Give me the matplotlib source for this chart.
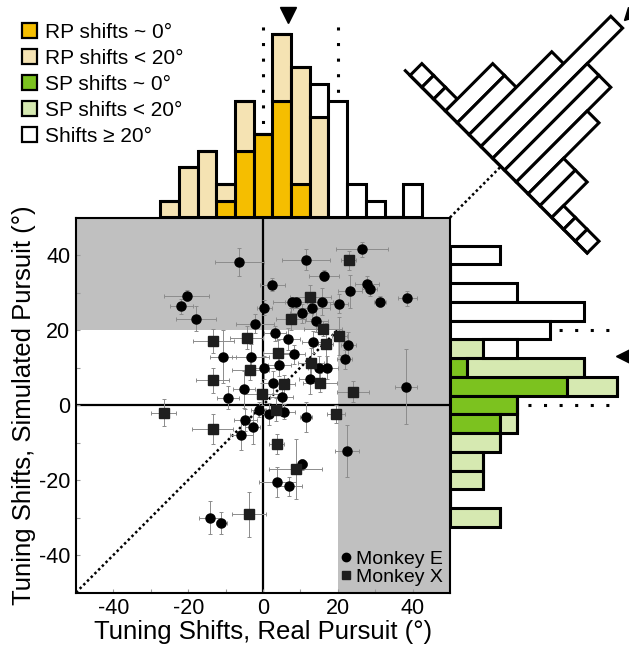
import numpy as np
import matplotlib.pyplot as plt
from matplotlib.patches import Patch
from matplotlib.lines import Line2D
from matplotlib.markers import MarkerStyle
from matplotlib.transforms import Affine2D

plt.rcParams['font.family'] = ['Liberation Sans', 'DejaVu Sans']
plt.rcParams['axes.unicode_minus'] = False

# Monkey E: tuning shifts (deg) in real (RP) and simulated (SP) pursuit, with errors
e_rp = [-6.3, 11.5, 26.5, 2.5, 16.2, -20.4, -21.8, -17.9, 27.8, 28.6, 23.3, 31.3, 38.6,
        0.3, 7.7, 8.8, 13.0, 15.7, 20.3, 10.3, 14.3, -2.1, 3.2, 6.8, 13.3, 22.8, 21.9,
        -10.8, -3.3, 8.3, 0.4, 4.4, 14.9, 17.0, 2.8, 12.7, -5.1, -9.4, 5.0, 38.2,
        -1.2, 1.7, 5.5, 11.5, -4.7, -5.8, -2.8, 22.5, 10.3, 3.8, 7.0, -14.2, -11.1]
e_sp = [38.1, 38.8, 41.6, 32.1, 34.5, 29.2, 26.3, 23.0, 32.4, 31.0, 30.3, 27.6, 28.5,
        26.0, 27.4, 27.4, 26.0, 27.6, 27.0, 24.5, 22.5, 21.7, 19.2, 17.6, 16.8, 16.0, 12.2,
        12.9, 12.9, 13.5, 10.0, 10.7, 10.0, 10.0, 6.0, 7.0, 4.2, 2.0, 2.2, 4.9,
        -1.2, -2.4, -1.8, -3.3, -4.0, -8.0, -5.8, -12.3, -15.8, -20.6, -21.7, -30.0, -31.5]
e_rp_err = [6.5, 6.5, 7.0, 3.3, 4.0, 6.0, 3.0, 5.3, 3.3, 2.0, 3.3, 1.5, 2.5,
            2.0, 5.0, 3.0, 5.0, 3.0, 2.5, 3.0, 3.0, 5.0, 3.0, 3.0, 3.0, 2.0, 2.0,
            3.5, 5.0, 3.0, 3.0, 3.0, 3.0, 3.0, 3.0, 3.0, 3.0, 3.0, 3.0, 3.0,
            2.0, 3.0, 3.0, 1.5, 3.0, 3.0, 2.0, 3.3, 1.5, 5.0, 3.5, 3.0, 1.5]
e_sp_err = [3.8, 2.8, 2.0, 1.8, 1.5, 1.5, 2.0, 3.3, 2.0, 2.0, 4.5, 1.5, 2.0,
            2.0, 1.5, 1.5, 3.0, 3.5, 2.5, 2.5, 3.0, 2.5, 2.0, 3.0, 3.0, 3.5, 2.5,
            7.0, 3.5, 2.5, 3.0, 3.0, 3.0, 3.0, 3.0, 4.0, 5.0, 3.0, 3.0, 10.0,
            2.0, 3.0, 2.0, 4.0, 3.0, 4.0, 4.5, 7.0, 1.5, 4.0, 2.5, 4.5, 3.0]

# Monkey X
x_rp = [22.9, 12.6, 7.6, 16.0, 20.4, 16.8, -4.4, -13.3, 3.9, -3.4, 12.9, -13.5,
        5.6, 15.2, -0.2, 24.0, -26.6, 3.5, 19.5, -13.5, 3.7, 8.7, -3.8]
x_sp = [38.6, 28.7, 23.0, 20.4, 18.4, 16.3, 18.0, 17.1, 14.0, 9.3, 11.1, 6.6,
        5.5, 6.0, 2.9, 3.6, -2.0, -1.2, -2.4, -6.5, -10.4, -17.1, -29.1]
x_rp_err = [2.0, 5.5, 4.0, 5.0, 2.0, 2.0, 4.5, 5.5, 4.0, 5.0, 3.5, 4.5,
            3.0, 4.5, 5.0, 4.3, 3.3, 3.0, 2.5, 5.5, 2.0, 7.0, 4.5]
x_sp_err = [2.5, 3.3, 3.0, 2.0, 5.0, 5.5, 3.0, 3.3, 3.3, 2.5, 4.0, 3.3,
            2.5, 2.5, 3.0, 2.7, 3.5, 3.0, 2.5, 4.0, 2.7, 8.0, 6.0]

# RP shift histogram (5 deg bins)
rp_bins = [-25, -20, -15, -10, -5, 0, 5, 10, 15, 20, 25, 30, 35, 40]
rp_near0 = [0, 0, 0, 1, 4, 5, 7, 2, 0, 0, 0, 0, 0, 0]
rp_lt20 = [1, 3, 4, 1, 3, 0, 4, 7, 6, 0, 0, 0, 0, 0]
rp_ge20 = [0, 0, 0, 0, 0, 0, 0, 0, 2, 7, 2, 1, 0, 2]
rp_mean = 6.7

# SP shift histogram
sp_bins = [40, 35, 30, 25, 20, 15, 10, 5, 0, -5, -10, -15, -20, -25, -30]
sp_near0 = [0, 0, 0, 0, 0, 0, 1, 7, 4, 3, 0, 0, 0, 0, 0]
sp_lt20 = [0, 0, 0, 0, 0, 2, 7, 3, 0, 1, 3, 2, 2, 0, 3]
sp_ge20 = [3, 0, 4, 8, 6, 2, 0, 0, 0, 0, 0, 0, 0, 0, 0]
sp_mean = 13.1

# RP - SP difference histogram, shown along the diagonal
diff_bins = [-35, -30, -25, -20, -15, -10, -5, 0, 5, 10, 15, 20, 25, 30, 35]
diff_counts = [1, 1, 1, 4, 4, 7, 11, 8, 8, 6, 3, 3, 1, 1, 1]
diff_mean = -4.0

orange = '#f5be00'
orange_lt = '#f5e3b3'
green = '#7cc21f'
green_lt = '#d6e9b1'
gray = '#c0c0c0'
dots = (0, (1, 1.1))
sparse_dots = (0, (1, 4.1))

W, H = 629, 650
fig = plt.figure(figsize=(W / 100, H / 100), dpi=100)


def box(l, t, r, b):
    return [l / W, 1 - b / H, (r - l) / W, (b - t) / H]


ax = fig.add_axes(box(76, 217.5, 450, 592.5))
ax_top = fig.add_axes(box(76, 0, 450, 217.5))
ax_right = fig.add_axes(box(450, 217.5, 629, 592.5))

px_per_deg = 374 / 100
px_per_count = 16.7

# --- main scatter ---
ax.axhspan(20, 50, color=gray, lw=0, zorder=0)
ax.fill_between([20, 50], -50, 20, color=gray, lw=0, zorder=0)
ax.axhline(0, color='k', lw=1.6, zorder=1)
ax.axvline(0, color='k', lw=1.6, zorder=1)
ax.plot([-50, 20], [-50, 20], color='k', lw=1.8, ls=dots, zorder=1)

ax.errorbar(e_rp, e_sp, xerr=e_rp_err, yerr=e_sp_err, fmt='o', ms=6.5, mfc='k', mec='k',
            ecolor='#8c8c8c', elinewidth=0.7, capsize=1.5, capthick=0.7, zorder=3)
ax.errorbar(x_rp, x_sp, xerr=x_rp_err, yerr=x_sp_err, fmt='s', ms=7, mfc='#1e1e1e',
            mec='#1e1e1e', ecolor='#8c8c8c', elinewidth=0.7, capsize=1.5, capthick=0.7,
            zorder=3)

ax.set_xticks([-40, -20, 0, 20, 40])
ax.set_yticks([-40, -20, 0, 20, 40])
ax.set_xticks([-30, -10, 10, 30], minor=True)
ax.set_yticks([-30, -10, 10, 30], minor=True)
ax.tick_params(which='both', direction='in', length=3, color='#9a9a9a', width=0.8,
               labelsize=15.5, pad=4)
for s in ax.spines.values():
    s.set_linewidth(1.5)
ax.set_xlabel('Tuning Shifts, Real Pursuit (°)', fontsize=18.5, labelpad=1)
ax.set_ylabel('Tuning Shifts, Simulated Pursuit (°)', fontsize=18.5, labelpad=2)

monkey_handles = [Line2D([], [], ls='none', marker='o', ms=6, color='k'),
                  Line2D([], [], ls='none', marker='s', ms=6, color='#1e1e1e')]
ax.legend(monkey_handles, ['Monkey E', 'Monkey X'], loc='lower right', fontsize=14,
          frameon=False, handlelength=0.6, handletextpad=0.25, labelspacing=0.0,
          borderaxespad=0.15, borderpad=0.2)

# --- diagonal histogram of RP - SP ---
cu = px_per_count / px_per_deg          # one count in main-axis degrees
bw = cu / 5                              # scale along the baseline
O = (63.0, 64.2)
rot = Affine2D().scale(bw, cu).rotate_deg(-45).translate(*O) + ax.transData
ax.bar(diff_bins, diff_counts, width=5, transform=rot, facecolor='white', edgecolor='k',
       lw=2.2, clip_on=False, zorder=4)
ax.plot([-39.5, 37.5], [0, 0], transform=rot, color='k', lw=2.2, clip_on=False, zorder=4)
ax.plot(diff_mean, 11.75, transform=rot, ls='none', color='k', ms=9, clip_on=False,
        marker=MarkerStyle('v', transform=Affine2D().rotate_deg(-45)), zorder=5)
# y = x continues from the corner up to the baseline
s_cross = (O[1] - O[0]) / (2 * bw * np.sqrt(0.5))
d_end = O[0] + s_cross * bw * np.sqrt(0.5)
ax.plot([50, d_end], [50, d_end], color='k', lw=1.8, ls=dots, clip_on=False, zorder=1)

ax.set_xlim(-50, 50)
ax.set_ylim(-50, 50)

# --- RP histogram on top ---
kw = dict(edgecolor='k', lw=2.2, zorder=2)
b1 = np.array(rp_near0)
b2 = b1 + np.array(rp_lt20)
ax_top.vlines([0, 20], 0, 11.75, color='k', lw=2.2, ls=sparse_dots, zorder=1)
ax_top.bar(rp_bins, rp_near0, width=5, color=orange, **kw)
ax_top.bar(rp_bins, rp_lt20, bottom=b1, width=5, color=orange_lt, **kw)
ax_top.bar(rp_bins, rp_ge20, bottom=b2, width=5, color='white', **kw)
ax_top.plot(rp_mean, 12.15, marker='v', ms=12, color='k', clip_on=False)
ax_top.set_xlim(-50, 50)
ax_top.set_ylim(0, 217.5 / px_per_count)
ax_top.axis('off')

# --- SP histogram on the right ---
c1 = np.array(sp_near0)
c2 = c1 + np.array(sp_lt20)
ax_right.hlines([0, 20], 0, 10.2, color='k', lw=2.2, ls=sparse_dots, zorder=1)
ax_right.barh(sp_bins, sp_near0, height=5, color=green, **kw)
ax_right.barh(sp_bins, sp_lt20, left=c1, height=5, color=green_lt, **kw)
ax_right.barh(sp_bins, sp_ge20, left=c2, height=5, color='white', **kw)
ax_right.plot(10.4, sp_mean, marker='<', ms=12, color='k', clip_on=False)
ax_right.set_ylim(-50, 50)
ax_right.set_xlim(0, 179 / px_per_count)
ax_right.axis('off')

# --- colour legend ---
handles = [Patch(facecolor=orange, edgecolor='k', lw=1.6),
           Patch(facecolor=orange_lt, edgecolor='k', lw=1.6),
           Patch(facecolor=green, edgecolor='k', lw=1.6),
           Patch(facecolor=green_lt, edgecolor='k', lw=1.6),
           Patch(facecolor='white', edgecolor='k', lw=1.6)]
labels = ['RP shifts ~ 0°', 'RP shifts < 20°', 'SP shifts ~ 0°', 'SP shifts < 20°',
          'Shifts ≥ 20°']
fig.legend(handles, labels, loc='upper left', bbox_to_anchor=(22 / W, 1 - 23 / H),
           frameon=False, fontsize=15, handlelength=0.7, handleheight=0.7,
           handletextpad=0.4, labelspacing=0.33, borderpad=0, borderaxespad=0)

fig.savefig('out.png', dpi=100)
